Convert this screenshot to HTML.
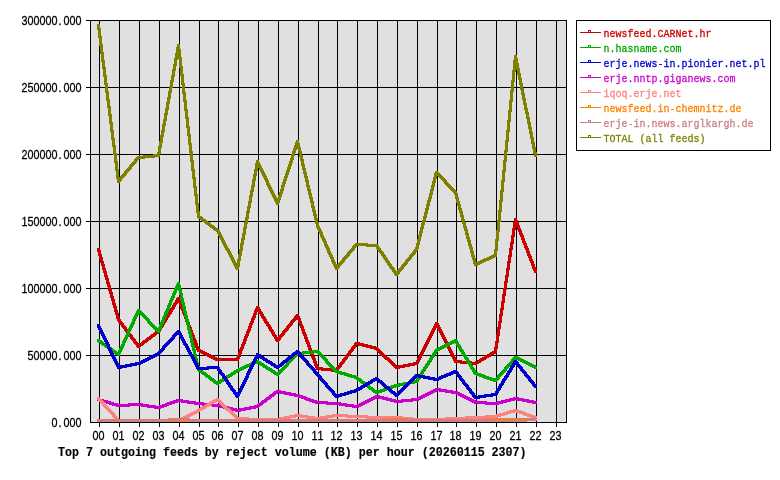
<!DOCTYPE html>
<html><head><meta charset="utf-8"><title>Top 7 outgoing feeds by reject volume</title>
<style>html,body{margin:0;padding:0;background:#fff}svg{display:block}text{font-family:"Liberation Mono",monospace;}</style></head><body>
<svg width="780" height="480" viewBox="0 0 780 480">
<rect x="0" y="0" width="780" height="480" fill="#fff"/>
<g shape-rendering="crispEdges">
<rect x="90" y="20" width="477" height="403" fill="#e0e0e0"/>
<rect x="86" y="20" width="481" height="1" fill="#000"/>
<rect x="86" y="87" width="481" height="1" fill="#000"/>
<rect x="86" y="154" width="481" height="1" fill="#000"/>
<rect x="86" y="221" width="481" height="1" fill="#000"/>
<rect x="86" y="288" width="481" height="1" fill="#000"/>
<rect x="86" y="355" width="481" height="1" fill="#000"/>
<rect x="90" y="422" width="477" height="1" fill="#000"/>
<rect x="99" y="20" width="1" height="407" fill="#000"/>
<rect x="119" y="20" width="1" height="407" fill="#000"/>
<rect x="139" y="20" width="1" height="407" fill="#000"/>
<rect x="159" y="20" width="1" height="407" fill="#000"/>
<rect x="179" y="20" width="1" height="407" fill="#000"/>
<rect x="199" y="20" width="1" height="407" fill="#000"/>
<rect x="218" y="20" width="1" height="407" fill="#000"/>
<rect x="238" y="20" width="1" height="407" fill="#000"/>
<rect x="258" y="20" width="1" height="407" fill="#000"/>
<rect x="278" y="20" width="1" height="407" fill="#000"/>
<rect x="298" y="20" width="1" height="407" fill="#000"/>
<rect x="318" y="20" width="1" height="407" fill="#000"/>
<rect x="337" y="20" width="1" height="407" fill="#000"/>
<rect x="357" y="20" width="1" height="407" fill="#000"/>
<rect x="377" y="20" width="1" height="407" fill="#000"/>
<rect x="397" y="20" width="1" height="407" fill="#000"/>
<rect x="417" y="20" width="1" height="407" fill="#000"/>
<rect x="437" y="20" width="1" height="407" fill="#000"/>
<rect x="456" y="20" width="1" height="407" fill="#000"/>
<rect x="476" y="20" width="1" height="407" fill="#000"/>
<rect x="496" y="20" width="1" height="407" fill="#000"/>
<rect x="516" y="20" width="1" height="407" fill="#000"/>
<rect x="536" y="20" width="1" height="407" fill="#000"/>
<rect x="556" y="20" width="1" height="407" fill="#000"/>
<rect x="90" y="20" width="1" height="403" fill="#000"/>
<rect x="566" y="20" width="1" height="403" fill="#000"/>
<path d="M97,248.5 100,248.5 120,318.5 120,320.5 117,320.5 97,250.5zM117,318.5 120,318.5 140,345.5 140,347.5 137,347.5 117,320.5zM137.5,345 157.5,330 159.5,330 159.5,333 139.5,348 137.5,348zM157,330.5 177,297.5 180,297.5 180,299.5 160,332.5 157,332.5zM177,297.5 180,297.5 200,349.5 200,351.5 197,351.5 177,299.5zM197.5,349 199.5,349 218.5,358 218.5,361 216.5,361 197.5,352zM216.5,358 238.5,358 238.5,361 216.5,361zM236,358.5 256,306.5 259,306.5 259,308.5 239,360.5 236,360.5zM256,306.5 259,306.5 279,339.5 279,341.5 276,341.5 256,308.5zM276,339.5 296,314.5 299,314.5 299,316.5 279,341.5 276,341.5zM296,314.5 299,314.5 319,367.5 319,369.5 316,369.5 296,316.5zM316.5,367 318.5,367 337.5,369 337.5,372 335.5,372 316.5,370zM335,369.5 355,342.5 358,342.5 358,344.5 338,371.5 335,371.5zM355.5,342 357.5,342 377.5,347 377.5,350 375.5,350 355.5,345zM375.5,347 377.5,347 397.5,366 397.5,369 395.5,369 375.5,350zM395.5,366 415.5,362 417.5,362 417.5,365 397.5,369 395.5,369zM415,362.5 435,322.5 438,322.5 438,324.5 418,364.5 415,364.5zM435,322.5 438,322.5 457,360.5 457,362.5 454,362.5 435,324.5zM454.5,360 456.5,360 476.5,362 476.5,365 474.5,365 454.5,363zM474.5,362 494.5,350 496.5,350 496.5,353 476.5,365 474.5,365zM494,350.5 514,218.5 517,218.5 517,220.5 497,352.5 494,352.5zM514,218.5 517,218.5 537,270.5 537,272.5 534,272.5 514,220.5zM97,248h3v3h-3zM117,318h3v3h-3zM137,345h3v3h-3zM157,330h3v3h-3zM177,297h3v3h-3zM197,349h3v3h-3zM216,358h3v3h-3zM236,358h3v3h-3zM256,306h3v3h-3zM276,339h3v3h-3zM296,314h3v3h-3zM316,367h3v3h-3zM335,369h3v3h-3zM355,342h3v3h-3zM375,347h3v3h-3zM395,366h3v3h-3zM415,362h3v3h-3zM435,322h3v3h-3zM454,360h3v3h-3zM474,362h3v3h-3zM494,350h3v3h-3zM514,218h3v3h-3zM534,270h3v3h-3z" fill="#cc0000"/>
<path d="M97.5,339 99.5,339 119.5,353 119.5,356 117.5,356 97.5,342zM117,353.5 137,309.5 140,309.5 140,311.5 120,355.5 117,355.5zM137,309.5 140,309.5 160,330.5 160,332.5 157,332.5 137,311.5zM157,330.5 177,282.5 180,282.5 180,284.5 160,332.5 157,332.5zM177,282.5 180,282.5 200,368.5 200,370.5 197,370.5 177,284.5zM197.5,368 199.5,368 218.5,382 218.5,385 216.5,385 197.5,371zM216.5,382 236.5,369 238.5,369 238.5,372 218.5,385 216.5,385zM236.5,369 256.5,360 258.5,360 258.5,363 238.5,372 236.5,372zM256.5,360 258.5,360 278.5,373 278.5,376 276.5,376 256.5,363zM276,373.5 296,352.5 299,352.5 299,354.5 279,375.5 276,375.5zM296.5,352 316.5,350 318.5,350 318.5,353 298.5,355 296.5,355zM316,350.5 319,350.5 338,370.5 338,372.5 335,372.5 316,352.5zM335.5,370 337.5,370 357.5,376 357.5,379 355.5,379 335.5,373zM355.5,376 357.5,376 377.5,391 377.5,394 375.5,394 355.5,379zM375.5,391 395.5,384 397.5,384 397.5,387 377.5,394 375.5,394zM395.5,384 415.5,380 417.5,380 417.5,383 397.5,387 395.5,387zM415,380.5 435,349.5 438,349.5 438,351.5 418,382.5 415,382.5zM435.5,349 454.5,339 456.5,339 456.5,342 437.5,352 435.5,352zM454,339.5 457,339.5 477,372.5 477,374.5 474,374.5 454,341.5zM474.5,372 476.5,372 496.5,379 496.5,382 494.5,382 474.5,375zM494,379.5 514,356.5 517,356.5 517,358.5 497,381.5 494,381.5zM514.5,356 516.5,356 536.5,366 536.5,369 534.5,369 514.5,359zM97,339h3v3h-3zM117,353h3v3h-3zM137,309h3v3h-3zM157,330h3v3h-3zM177,282h3v3h-3zM197,368h3v3h-3zM216,382h3v3h-3zM236,369h3v3h-3zM256,360h3v3h-3zM276,373h3v3h-3zM296,352h3v3h-3zM316,350h3v3h-3zM335,370h3v3h-3zM355,376h3v3h-3zM375,391h3v3h-3zM395,384h3v3h-3zM415,380h3v3h-3zM435,349h3v3h-3zM454,339h3v3h-3zM474,372h3v3h-3zM494,379h3v3h-3zM514,356h3v3h-3zM534,366h3v3h-3z" fill="#00aa00"/>
<path d="M97,324.5 100,324.5 120,366.5 120,368.5 117,368.5 97,326.5zM117.5,366 137.5,362 139.5,362 139.5,365 119.5,369 117.5,369zM137.5,362 157.5,352 159.5,352 159.5,355 139.5,365 137.5,365zM157,352.5 177,330.5 180,330.5 180,332.5 160,354.5 157,354.5zM177,330.5 180,330.5 200,367.5 200,369.5 197,369.5 177,332.5zM197.5,367 216.5,366 218.5,366 218.5,369 199.5,370 197.5,370zM216,366.5 219,366.5 239,395.5 239,397.5 236,397.5 216,368.5zM236,395.5 256,353.5 259,353.5 259,355.5 239,397.5 236,397.5zM256.5,353 258.5,353 278.5,366 278.5,369 276.5,369 256.5,356zM276.5,366 296.5,350 298.5,350 298.5,353 278.5,369 276.5,369zM296,350.5 299,350.5 319,373.5 319,375.5 316,375.5 296,352.5zM316,373.5 319,373.5 338,395.5 338,397.5 335,397.5 316,375.5zM335.5,395 355.5,389 357.5,389 357.5,392 337.5,398 335.5,398zM355.5,389 375.5,377 377.5,377 377.5,380 357.5,392 355.5,392zM375.5,377 377.5,377 397.5,394 397.5,397 395.5,397 375.5,380zM395.5,394 415.5,374 417.5,374 417.5,377 397.5,397 395.5,397zM415.5,374 417.5,374 437.5,378 437.5,381 435.5,381 415.5,377zM435.5,378 454.5,370 456.5,370 456.5,373 437.5,381 435.5,381zM454,370.5 457,370.5 477,396.5 477,398.5 474,398.5 454,372.5zM474.5,396 494.5,393 496.5,393 496.5,396 476.5,399 474.5,399zM494,393.5 514,360.5 517,360.5 517,362.5 497,395.5 494,395.5zM514,360.5 517,360.5 537,385.5 537,387.5 534,387.5 514,362.5zM97,324h3v3h-3zM117,366h3v3h-3zM137,362h3v3h-3zM157,352h3v3h-3zM177,330h3v3h-3zM197,367h3v3h-3zM216,366h3v3h-3zM236,395h3v3h-3zM256,353h3v3h-3zM276,366h3v3h-3zM296,350h3v3h-3zM316,373h3v3h-3zM335,395h3v3h-3zM355,389h3v3h-3zM375,377h3v3h-3zM395,394h3v3h-3zM415,374h3v3h-3zM435,378h3v3h-3zM454,370h3v3h-3zM474,396h3v3h-3zM494,393h3v3h-3zM514,360h3v3h-3zM534,385h3v3h-3z" fill="#0000cc"/>
<path d="M97.5,398 99.5,398 119.5,404 119.5,407 117.5,407 97.5,401zM117.5,404 137.5,403 139.5,403 139.5,406 119.5,407 117.5,407zM137.5,403 139.5,403 159.5,406 159.5,409 157.5,409 137.5,406zM157.5,406 177.5,399 179.5,399 179.5,402 159.5,409 157.5,409zM177.5,399 179.5,399 199.5,402 199.5,405 197.5,405 177.5,402zM197.5,402 199.5,402 218.5,404 218.5,407 216.5,407 197.5,405zM216.5,404 218.5,404 238.5,409 238.5,412 236.5,412 216.5,407zM236.5,409 256.5,405 258.5,405 258.5,408 238.5,412 236.5,412zM256.5,405 276.5,390 278.5,390 278.5,393 258.5,408 256.5,408zM276.5,390 278.5,390 298.5,394 298.5,397 296.5,397 276.5,393zM296.5,394 298.5,394 318.5,401 318.5,404 316.5,404 296.5,397zM316.5,401 318.5,401 337.5,402 337.5,405 335.5,405 316.5,404zM335.5,402 337.5,402 357.5,405 357.5,408 355.5,408 335.5,405zM355.5,405 375.5,395 377.5,395 377.5,398 357.5,408 355.5,408zM375.5,395 377.5,395 397.5,400 397.5,403 395.5,403 375.5,398zM395.5,400 415.5,398 417.5,398 417.5,401 397.5,403 395.5,403zM415.5,398 435.5,388 437.5,388 437.5,391 417.5,401 415.5,401zM435.5,388 437.5,388 456.5,391 456.5,394 454.5,394 435.5,391zM454.5,391 456.5,391 476.5,401 476.5,404 474.5,404 454.5,394zM474.5,401 476.5,401 496.5,402 496.5,405 494.5,405 474.5,404zM494.5,402 514.5,397 516.5,397 516.5,400 496.5,405 494.5,405zM514.5,397 516.5,397 536.5,401 536.5,404 534.5,404 514.5,400zM97,398h3v3h-3zM117,404h3v3h-3zM137,403h3v3h-3zM157,406h3v3h-3zM177,399h3v3h-3zM197,402h3v3h-3zM216,404h3v3h-3zM236,409h3v3h-3zM256,405h3v3h-3zM276,390h3v3h-3zM296,394h3v3h-3zM316,401h3v3h-3zM335,402h3v3h-3zM355,405h3v3h-3zM375,395h3v3h-3zM395,400h3v3h-3zM415,398h3v3h-3zM435,388h3v3h-3zM454,391h3v3h-3zM474,401h3v3h-3zM494,402h3v3h-3zM514,397h3v3h-3zM534,401h3v3h-3z" fill="#cc00cc"/>
<path d="M97,397.5 100,397.5 120,419.5 120,421.5 117,421.5 97,399.5zM117.5,419 139.5,419 139.5,422 117.5,422zM137.5,419 159.5,419 159.5,422 137.5,422zM157.5,419 179.5,419 179.5,422 157.5,422zM177.5,419 197.5,409 199.5,409 199.5,412 179.5,422 177.5,422zM197.5,409 216.5,398 218.5,398 218.5,401 199.5,412 197.5,412zM216.5,398 218.5,398 238.5,417 238.5,420 236.5,420 216.5,401zM236.5,417 238.5,417 258.5,418 258.5,421 256.5,421 236.5,420zM256.5,418 278.5,418 278.5,421 256.5,421zM276.5,418 296.5,414 298.5,414 298.5,417 278.5,421 276.5,421zM296.5,414 298.5,414 318.5,417 318.5,420 316.5,420 296.5,417zM316.5,417 335.5,414 337.5,414 337.5,417 318.5,420 316.5,420zM335.5,414 337.5,414 357.5,415 357.5,418 355.5,418 335.5,417zM355.5,415 357.5,415 377.5,416 377.5,419 375.5,419 355.5,418zM375.5,416 397.5,416 397.5,419 375.5,419zM395.5,416 397.5,416 417.5,418 417.5,421 415.5,421 395.5,419zM415.5,418 437.5,418 437.5,421 415.5,421zM435.5,418 454.5,417 456.5,417 456.5,420 437.5,421 435.5,421zM454.5,417 474.5,416 476.5,416 476.5,419 456.5,420 454.5,420zM474.5,416 494.5,415 496.5,415 496.5,418 476.5,419 474.5,419zM494.5,415 514.5,409 516.5,409 516.5,412 496.5,418 494.5,418zM514.5,409 516.5,409 536.5,416 536.5,419 534.5,419 514.5,412zM97,397h3v3h-3zM117,419h3v3h-3zM137,419h3v3h-3zM157,419h3v3h-3zM177,419h3v3h-3zM197,409h3v3h-3zM216,398h3v3h-3zM236,417h3v3h-3zM256,418h3v3h-3zM276,418h3v3h-3zM296,414h3v3h-3zM316,417h3v3h-3zM335,414h3v3h-3zM355,415h3v3h-3zM375,416h3v3h-3zM395,416h3v3h-3zM415,418h3v3h-3zM435,418h3v3h-3zM454,417h3v3h-3zM474,416h3v3h-3zM494,415h3v3h-3zM514,409h3v3h-3zM534,416h3v3h-3z" fill="#ff8080"/>
<path d="M97.5,419 119.5,419 119.5,422 97.5,422zM117.5,419 139.5,419 139.5,422 117.5,422zM137.5,419 159.5,419 159.5,422 137.5,422zM157.5,419 179.5,419 179.5,422 157.5,422zM177.5,419 199.5,419 199.5,422 177.5,422zM197.5,419 218.5,419 218.5,422 197.5,422zM216.5,419 238.5,419 238.5,422 216.5,422zM236.5,419 258.5,419 258.5,422 236.5,422zM256.5,419 278.5,419 278.5,422 256.5,422zM276.5,419 298.5,419 298.5,422 276.5,422zM296.5,419 318.5,419 318.5,422 296.5,422zM316.5,419 337.5,419 337.5,422 316.5,422zM335.5,419 357.5,419 357.5,422 335.5,422zM355.5,419 377.5,419 377.5,422 355.5,422zM375.5,419 395.5,418 397.5,418 397.5,421 377.5,422 375.5,422zM395.5,418 397.5,418 417.5,419 417.5,422 415.5,422 395.5,421zM415.5,419 437.5,419 437.5,422 415.5,422zM435.5,419 456.5,419 456.5,422 435.5,422zM454.5,419 476.5,419 476.5,422 454.5,422zM474.5,419 494.5,418 496.5,418 496.5,421 476.5,422 474.5,422zM494.5,418 516.5,418 516.5,421 494.5,421zM514.5,418 536.5,418 536.5,421 514.5,421zM97,419h3v3h-3zM117,419h3v3h-3zM137,419h3v3h-3zM157,419h3v3h-3zM177,419h3v3h-3zM197,419h3v3h-3zM216,419h3v3h-3zM236,419h3v3h-3zM256,419h3v3h-3zM276,419h3v3h-3zM296,419h3v3h-3zM316,419h3v3h-3zM335,419h3v3h-3zM355,419h3v3h-3zM375,419h3v3h-3zM395,418h3v3h-3zM415,419h3v3h-3zM435,419h3v3h-3zM454,419h3v3h-3zM474,419h3v3h-3zM494,418h3v3h-3zM514,418h3v3h-3zM534,418h3v3h-3z" fill="#ff8000"/>
<path d="M97.5,419 119.5,419 119.5,422 97.5,422zM117.5,419 139.5,419 139.5,422 117.5,422zM137.5,419 159.5,419 159.5,422 137.5,422zM157.5,419 177.5,418 179.5,418 179.5,421 159.5,422 157.5,422zM177.5,418 179.5,418 199.5,419 199.5,422 197.5,422 177.5,421zM197.5,419 218.5,419 218.5,422 197.5,422zM216.5,419 238.5,419 238.5,422 216.5,422zM236.5,419 258.5,419 258.5,422 236.5,422zM256.5,419 278.5,419 278.5,422 256.5,422zM276.5,419 298.5,419 298.5,422 276.5,422zM296.5,419 318.5,419 318.5,422 296.5,422zM316.5,419 337.5,419 337.5,422 316.5,422zM335.5,419 357.5,419 357.5,422 335.5,422zM355.5,419 377.5,419 377.5,422 355.5,422zM375.5,419 397.5,419 397.5,422 375.5,422zM395.5,419 417.5,419 417.5,422 395.5,422zM415.5,419 437.5,419 437.5,422 415.5,422zM435.5,419 456.5,419 456.5,422 435.5,422zM454.5,419 476.5,419 476.5,422 454.5,422zM474.5,419 496.5,419 496.5,422 474.5,422zM494.5,419 516.5,419 516.5,422 494.5,422zM514.5,419 534.5,418 536.5,418 536.5,421 516.5,422 514.5,422zM97,419h3v3h-3zM117,419h3v3h-3zM137,419h3v3h-3zM157,419h3v3h-3zM177,418h3v3h-3zM197,419h3v3h-3zM216,419h3v3h-3zM236,419h3v3h-3zM256,419h3v3h-3zM276,419h3v3h-3zM296,419h3v3h-3zM316,419h3v3h-3zM335,419h3v3h-3zM355,419h3v3h-3zM375,419h3v3h-3zM395,419h3v3h-3zM415,419h3v3h-3zM435,419h3v3h-3zM454,419h3v3h-3zM474,419h3v3h-3zM494,419h3v3h-3zM514,419h3v3h-3zM534,418h3v3h-3z" fill="#cc8080"/>
<path d="M97,24.5 100,24.5 120,180.5 120,182.5 117,182.5 97,26.5zM117,180.5 137,156.5 140,156.5 140,158.5 120,182.5 117,182.5zM137.5,156 157.5,154 159.5,154 159.5,157 139.5,159 137.5,159zM157,154.5 177,44.5 180,44.5 180,46.5 160,156.5 157,156.5zM177,44.5 180,44.5 200,215.5 200,217.5 197,217.5 177,46.5zM197.5,215 199.5,215 218.5,229 218.5,232 216.5,232 197.5,218zM216,229.5 219,229.5 239,267.5 239,269.5 236,269.5 216,231.5zM236,267.5 256,160.5 259,160.5 259,162.5 239,269.5 236,269.5zM256,160.5 259,160.5 279,202.5 279,204.5 276,204.5 256,162.5zM276,202.5 296,140.5 299,140.5 299,142.5 279,204.5 276,204.5zM296,140.5 299,140.5 319,224.5 319,226.5 316,226.5 296,142.5zM316,224.5 319,224.5 338,267.5 338,269.5 335,269.5 316,226.5zM335,267.5 355,243.5 358,243.5 358,245.5 338,269.5 335,269.5zM355.5,243 357.5,243 377.5,244 377.5,247 375.5,247 355.5,246zM375,244.5 378,244.5 398,273.5 398,275.5 395,275.5 375,246.5zM395,273.5 415,248.5 418,248.5 418,250.5 398,275.5 395,275.5zM415,248.5 435,171.5 438,171.5 438,173.5 418,250.5 415,250.5zM435,171.5 438,171.5 457,191.5 457,193.5 454,193.5 435,173.5zM454,191.5 457,191.5 477,263.5 477,265.5 474,265.5 454,193.5zM474.5,263 494.5,254 496.5,254 496.5,257 476.5,266 474.5,266zM494,254.5 514,55.5 517,55.5 517,57.5 497,256.5 494,256.5zM514,55.5 517,55.5 537,154.5 537,156.5 534,156.5 514,57.5zM97,24h3v3h-3zM117,180h3v3h-3zM137,156h3v3h-3zM157,154h3v3h-3zM177,44h3v3h-3zM197,215h3v3h-3zM216,229h3v3h-3zM236,267h3v3h-3zM256,160h3v3h-3zM276,202h3v3h-3zM296,140h3v3h-3zM316,224h3v3h-3zM335,267h3v3h-3zM355,243h3v3h-3zM375,244h3v3h-3zM395,273h3v3h-3zM415,248h3v3h-3zM435,171h3v3h-3zM454,191h3v3h-3zM474,263h3v3h-3zM494,254h3v3h-3zM514,55h3v3h-3zM534,154h3v3h-3z" fill="#808000"/>
<rect x="576.5" y="20.5" width="194" height="130" fill="#fff" stroke="#000" stroke-width="1"/>
<rect x="580" y="32" width="21" height="1" fill="#cc0000"/>
<rect x="588.5" y="30.5" width="2" height="2" fill="#fff" stroke="#cc0000" stroke-width="1"/>
<rect x="580" y="47" width="21" height="1" fill="#00aa00"/>
<rect x="588.5" y="45.5" width="2" height="2" fill="#fff" stroke="#00aa00" stroke-width="1"/>
<rect x="580" y="62" width="21" height="1" fill="#0000cc"/>
<rect x="588.5" y="60.5" width="2" height="2" fill="#fff" stroke="#0000cc" stroke-width="1"/>
<rect x="580" y="77" width="21" height="1" fill="#cc00cc"/>
<rect x="588.5" y="75.5" width="2" height="2" fill="#fff" stroke="#cc00cc" stroke-width="1"/>
<rect x="580" y="92" width="21" height="1" fill="#ff8080"/>
<rect x="588.5" y="90.5" width="2" height="2" fill="#fff" stroke="#ff8080" stroke-width="1"/>
<rect x="580" y="107" width="21" height="1" fill="#ff8000"/>
<rect x="588.5" y="105.5" width="2" height="2" fill="#fff" stroke="#ff8000" stroke-width="1"/>
<rect x="580" y="122" width="21" height="1" fill="#cc8080"/>
<rect x="588.5" y="120.5" width="2" height="2" fill="#fff" stroke="#cc8080" stroke-width="1"/>
<rect x="580" y="137" width="21" height="1" fill="#808000"/>
<rect x="588.5" y="135.5" width="2" height="2" fill="#fff" stroke="#808000" stroke-width="1"/>
</g>
<text transform="translate(21.4,25) scale(0.8428,1)" x="0 7.119 14.239 21.358 28.477 35.597 44.14 49.836 56.955 64.074" font-size="12.8" style="font-family:'Liberation Sans',sans-serif" fill="#000" stroke="#000" stroke-width="0.3">300000.000</text>
<text transform="translate(21.4,92) scale(0.8428,1)" x="0 7.119 14.239 21.358 28.477 35.597 44.14 49.836 56.955 64.074" font-size="12.8" style="font-family:'Liberation Sans',sans-serif" fill="#000" stroke="#000" stroke-width="0.3">250000.000</text>
<text transform="translate(21.4,159) scale(0.8428,1)" x="0 7.119 14.239 21.358 28.477 35.597 44.14 49.836 56.955 64.074" font-size="12.8" style="font-family:'Liberation Sans',sans-serif" fill="#000" stroke="#000" stroke-width="0.3">200000.000</text>
<text transform="translate(21.4,226) scale(0.8428,1)" x="0 7.119 14.239 21.358 28.477 35.597 44.14 49.836 56.955 64.074" font-size="12.8" style="font-family:'Liberation Sans',sans-serif" fill="#000" stroke="#000" stroke-width="0.3">150000.000</text>
<text transform="translate(21.4,293) scale(0.8428,1)" x="0 7.119 14.239 21.358 28.477 35.597 44.14 49.836 56.955 64.074" font-size="12.8" style="font-family:'Liberation Sans',sans-serif" fill="#000" stroke="#000" stroke-width="0.3">100000.000</text>
<text transform="translate(27.4,360) scale(0.8428,1)" x="0 7.119 14.239 21.358 28.477 37.021 42.716 49.836 56.955" font-size="12.8" style="font-family:'Liberation Sans',sans-serif" fill="#000" stroke="#000" stroke-width="0.3">50000.000</text>
<text transform="translate(51.4,427) scale(0.8428,1)" x="0 8.543 14.239 21.358 28.477" font-size="12.8" style="font-family:'Liberation Sans',sans-serif" fill="#000" stroke="#000" stroke-width="0.3">0.000</text>
<text transform="translate(92.6,440) scale(0.8428,1)" x="0 7.119" font-size="12.8" style="font-family:'Liberation Sans',sans-serif" fill="#000" stroke="#000" stroke-width="0.3">00</text>
<text transform="translate(112.6,440) scale(0.8428,1)" x="0 7.119" font-size="12.8" style="font-family:'Liberation Sans',sans-serif" fill="#000" stroke="#000" stroke-width="0.3">01</text>
<text transform="translate(132.6,440) scale(0.8428,1)" x="0 7.119" font-size="12.8" style="font-family:'Liberation Sans',sans-serif" fill="#000" stroke="#000" stroke-width="0.3">02</text>
<text transform="translate(152.6,440) scale(0.8428,1)" x="0 7.119" font-size="12.8" style="font-family:'Liberation Sans',sans-serif" fill="#000" stroke="#000" stroke-width="0.3">03</text>
<text transform="translate(172.6,440) scale(0.8428,1)" x="0 7.119" font-size="12.8" style="font-family:'Liberation Sans',sans-serif" fill="#000" stroke="#000" stroke-width="0.3">04</text>
<text transform="translate(192.6,440) scale(0.8428,1)" x="0 7.119" font-size="12.8" style="font-family:'Liberation Sans',sans-serif" fill="#000" stroke="#000" stroke-width="0.3">05</text>
<text transform="translate(211.6,440) scale(0.8428,1)" x="0 7.119" font-size="12.8" style="font-family:'Liberation Sans',sans-serif" fill="#000" stroke="#000" stroke-width="0.3">06</text>
<text transform="translate(231.6,440) scale(0.8428,1)" x="0 7.119" font-size="12.8" style="font-family:'Liberation Sans',sans-serif" fill="#000" stroke="#000" stroke-width="0.3">07</text>
<text transform="translate(251.6,440) scale(0.8428,1)" x="0 7.119" font-size="12.8" style="font-family:'Liberation Sans',sans-serif" fill="#000" stroke="#000" stroke-width="0.3">08</text>
<text transform="translate(271.6,440) scale(0.8428,1)" x="0 7.119" font-size="12.8" style="font-family:'Liberation Sans',sans-serif" fill="#000" stroke="#000" stroke-width="0.3">09</text>
<text transform="translate(291.6,440) scale(0.8428,1)" x="0 7.119" font-size="12.8" style="font-family:'Liberation Sans',sans-serif" fill="#000" stroke="#000" stroke-width="0.3">10</text>
<text transform="translate(311.6,440) scale(0.8428,1)" x="0 7.119" font-size="12.8" style="font-family:'Liberation Sans',sans-serif" fill="#000" stroke="#000" stroke-width="0.3">11</text>
<text transform="translate(330.6,440) scale(0.8428,1)" x="0 7.119" font-size="12.8" style="font-family:'Liberation Sans',sans-serif" fill="#000" stroke="#000" stroke-width="0.3">12</text>
<text transform="translate(350.6,440) scale(0.8428,1)" x="0 7.119" font-size="12.8" style="font-family:'Liberation Sans',sans-serif" fill="#000" stroke="#000" stroke-width="0.3">13</text>
<text transform="translate(370.6,440) scale(0.8428,1)" x="0 7.119" font-size="12.8" style="font-family:'Liberation Sans',sans-serif" fill="#000" stroke="#000" stroke-width="0.3">14</text>
<text transform="translate(390.6,440) scale(0.8428,1)" x="0 7.119" font-size="12.8" style="font-family:'Liberation Sans',sans-serif" fill="#000" stroke="#000" stroke-width="0.3">15</text>
<text transform="translate(410.6,440) scale(0.8428,1)" x="0 7.119" font-size="12.8" style="font-family:'Liberation Sans',sans-serif" fill="#000" stroke="#000" stroke-width="0.3">16</text>
<text transform="translate(430.6,440) scale(0.8428,1)" x="0 7.119" font-size="12.8" style="font-family:'Liberation Sans',sans-serif" fill="#000" stroke="#000" stroke-width="0.3">17</text>
<text transform="translate(449.6,440) scale(0.8428,1)" x="0 7.119" font-size="12.8" style="font-family:'Liberation Sans',sans-serif" fill="#000" stroke="#000" stroke-width="0.3">18</text>
<text transform="translate(469.6,440) scale(0.8428,1)" x="0 7.119" font-size="12.8" style="font-family:'Liberation Sans',sans-serif" fill="#000" stroke="#000" stroke-width="0.3">19</text>
<text transform="translate(489.6,440) scale(0.8428,1)" x="0 7.119" font-size="12.8" style="font-family:'Liberation Sans',sans-serif" fill="#000" stroke="#000" stroke-width="0.3">20</text>
<text transform="translate(509.6,440) scale(0.8428,1)" x="0 7.119" font-size="12.8" style="font-family:'Liberation Sans',sans-serif" fill="#000" stroke="#000" stroke-width="0.3">21</text>
<text transform="translate(529.6,440) scale(0.8428,1)" x="0 7.119" font-size="12.8" style="font-family:'Liberation Sans',sans-serif" fill="#000" stroke="#000" stroke-width="0.3">22</text>
<text transform="translate(549.6,440) scale(0.8428,1)" x="0 7.119" font-size="12.8" style="font-family:'Liberation Sans',sans-serif" fill="#000" stroke="#000" stroke-width="0.3">23</text>
<text transform="translate(603.6,37) scale(0.8696,1)" font-size="11.5" text-anchor="start" font-weight="normal" fill="#cc0000" stroke="#cc0000" stroke-width="0.3">newsfeed.CARNet.hr</text>
<text transform="translate(603.6,52) scale(0.8696,1)" font-size="11.5" text-anchor="start" font-weight="normal" fill="#00aa00" stroke="#00aa00" stroke-width="0.3">n.hasname.com</text>
<text transform="translate(603.6,67) scale(0.8696,1)" font-size="11.5" text-anchor="start" font-weight="normal" fill="#0000cc" stroke="#0000cc" stroke-width="0.3">erje.news-in.pionier.net.pl</text>
<text transform="translate(603.6,82) scale(0.8696,1)" font-size="11.5" text-anchor="start" font-weight="normal" fill="#cc00cc" stroke="#cc00cc" stroke-width="0.3">erje.nntp.giganews.com</text>
<text transform="translate(603.6,97) scale(0.8696,1)" font-size="11.5" text-anchor="start" font-weight="normal" fill="#ff8080" stroke="#ff8080" stroke-width="0.3">iqoq.erje.net</text>
<text transform="translate(603.6,112) scale(0.8696,1)" font-size="11.5" text-anchor="start" font-weight="normal" fill="#ff8000" stroke="#ff8000" stroke-width="0.3">newsfeed.in-chemnitz.de</text>
<text transform="translate(603.6,127) scale(0.8696,1)" font-size="11.5" text-anchor="start" font-weight="normal" fill="#cc8080" stroke="#cc8080" stroke-width="0.3">erje-in.news.arglkargh.de</text>
<text transform="translate(603.6,142) scale(0.8696,1)" font-size="11.5" text-anchor="start" font-weight="normal" fill="#808000" stroke="#808000" stroke-width="0.3">TOTAL (all feeds)</text>
<text transform="translate(58,456) scale(0.9333,1)" font-size="12.5" text-anchor="start" font-weight="bold" fill="#000" stroke="#000" stroke-width="0.15">Top 7 outgoing feeds by reject volume (KB) per hour (20260115 2307)</text>
</svg></body></html>
